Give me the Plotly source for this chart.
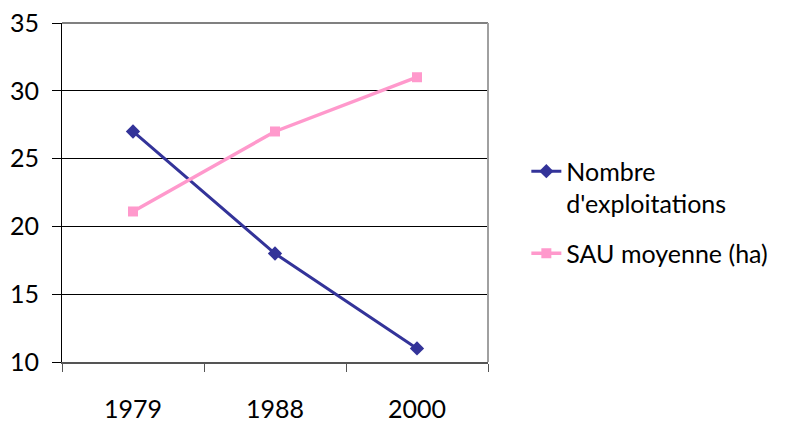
import plotly.graph_objects as go

years = ["1979", "1988", "2000"]
nombre_exploitations = [27, 18, 11]
sau_moyenne = [21.1, 27, 31]

y_ticks = [10, 15, 20, 25, 30, 35]

FONT = "Lato"

fig = go.Figure()
fig.add_trace(go.Scatter(
    x=years, y=nombre_exploitations, mode="lines+markers",
    name="Nombre<br>d'exploitations", legendgroup="a",
    line=dict(color="#333399", width=3),
    marker=dict(symbol="diamond", size=11, color="#333399"),
))
fig.add_trace(go.Scatter(
    x=years, y=sau_moyenne, mode="lines+markers",
    name="SAU moyenne (ha)", legendgroup="b",
    line=dict(color="#FF99CC", width=3.5),
    marker=dict(symbol="square", size=10, color="#FF99CC"),
))

fig.update_layout(
    width=792, height=422,
    margin=dict(l=62, r=304, t=23, b=60),
    plot_bgcolor="white", paper_bgcolor="white",
    font=dict(family=FONT, size=25, color="black"),
    showlegend=True,
    legend=dict(
        x=1.09, y=0.63, xanchor="left", yanchor="top",
        valign="top", font=dict(family=FONT, size=25),
        traceorder="grouped", tracegroupgap=14,
        bgcolor="rgba(0,0,0,0)",
    ),
    xaxis=dict(
        type="category", tickson="boundaries",
        ticks="outside", ticklen=8, tickcolor="#555555", tickwidth=1,
        showline=True, linecolor="#555555", linewidth=2,
        showgrid=False, ticklabelstandoff=24, automargin=False,
        range=[-0.5, 2.5],
    ),
    yaxis=dict(
        range=[10, 35], tickvals=y_ticks,
        ticks="outside", ticklen=9, tickcolor="black", tickwidth=1,
        showline=True, linecolor="black", linewidth=1,
        showgrid=True, gridcolor="black", gridwidth=1,
        zeroline=False, ticklabelstandoff=8, automargin=False,
    ),
)

# Grey frame on the top and right sides of the plotting area
fig.add_shape(type="line", xref="paper", yref="paper", x0=0, x1=1, y0=1, y1=1,
              line=dict(color="#808080", width=2))
fig.add_shape(type="line", xref="paper", yref="paper", x0=1, x1=1, y0=0, y1=1,
              line=dict(color="#A0A0A0", width=2))

fig.write_html("out.html")
